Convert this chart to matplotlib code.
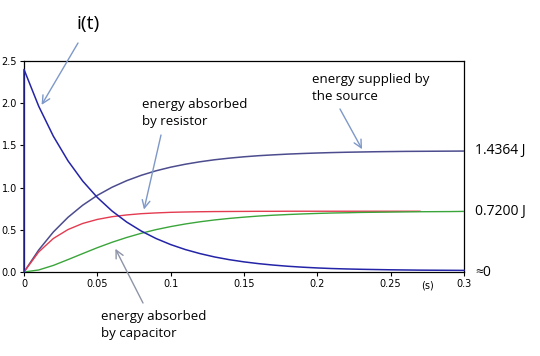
import matplotlib
matplotlib.use("Agg")
import matplotlib.pyplot as plt

# time axis (s)
t = [0.00, 0.01, 0.02, 0.03, 0.04, 0.05, 0.06, 0.07, 0.08, 0.09, 0.10,
     0.11, 0.12, 0.13, 0.14, 0.15, 0.16, 0.17, 0.18, 0.19, 0.20,
     0.21, 0.22, 0.23, 0.24, 0.25, 0.26, 0.27, 0.28, 0.29, 0.30]

# current i(t), values (jump from 0 at t=0)
t_current = [0.0] + t
current = [0.0, 2.40, 1.965, 1.609, 1.317, 1.078, 0.883, 0.723, 0.592, 0.485, 0.397, 0.325,
           0.266, 0.218, 0.178, 0.146, 0.120, 0.099, 0.082, 0.068, 0.057, 0.048,
           0.041, 0.036, 0.032, 0.029, 0.026, 0.024, 0.022, 0.021, 0.020, 0.019]

# energy supplied by the source
energy_source = [0.0, 0.260, 0.474, 0.648, 0.791, 0.908, 1.004, 1.082, 1.146, 1.199, 1.242,
                 1.277, 1.306, 1.330, 1.349, 1.365, 1.378, 1.388, 1.397, 1.404, 1.410,
                 1.415, 1.419, 1.422, 1.425, 1.427, 1.429, 1.430, 1.431, 1.432, 1.433]

# energy absorbed by resistor (trace stops near 0.27 s)
t_resistor = t[:28]
energy_resistor = [0.0, 0.237, 0.397, 0.503, 0.575, 0.623, 0.655, 0.676, 0.691, 0.700, 0.707,
                   0.711, 0.714, 0.716, 0.717, 0.718, 0.719, 0.719, 0.720, 0.720, 0.720,
                   0.720, 0.720, 0.720, 0.720, 0.720, 0.720, 0.720]

# energy absorbed by capacitor
energy_capacitor = [0.0, 0.024, 0.078, 0.147, 0.218, 0.288, 0.352, 0.409, 0.459, 0.502, 0.538,
                    0.569, 0.595, 0.617, 0.635, 0.650, 0.663, 0.673, 0.681, 0.688, 0.694,
                    0.699, 0.702, 0.706, 0.708, 0.710, 0.712, 0.714, 0.715, 0.716, 0.718]

x_ticks = [0, 0.05, 0.1, 0.15, 0.2, 0.25, 0.3]
x_tick_labels = ["0", "0.05", "0.1", "0.15", "0.2", "0.25", "0.3"]
y_ticks = [0.0, 0.5, 1.0, 1.5, 2.0, 2.5]
y_tick_labels = ["0.0", "0.5", "1.0", "1.5", "2.0", "2.5"]

final_values = [1.4364, 0.72, 0.0]
final_labels = ["1.4364 J", "0.7200 J", "≈0"]

fig = plt.figure(figsize=(5.4, 3.56), dpi=100)
ax = fig.add_axes([24 / 540, 1 - 272 / 356, 440 / 540, 211 / 356])

ax.plot(t_current, current, color="#2424a8", linewidth=1.1, zorder=4, clip_on=False)
ax.plot(t, energy_source, color="#4c4c8e", linewidth=1.1, zorder=3)
ax.plot(t_resistor, energy_resistor, color="#e33b50", linewidth=1.0, zorder=3)
ax.plot(t, energy_capacitor, color="#3aa53a", linewidth=1.0, zorder=3)

ax.set_xlim(0, 0.3)
ax.set_ylim(0, 2.5)
ax.set_xticks(x_ticks)
ax.set_xticklabels(x_tick_labels)
ax.set_yticks(y_ticks)
ax.set_yticklabels(y_tick_labels)
ax.tick_params(labelsize=7, length=3, width=0.8, pad=2, direction="out")
for s in ax.spines.values():
    s.set_linewidth(0.9)
    s.set_color("black")
    s.set_zorder(2)

fig.text(427 / 540, 1 - 285 / 356, "(s)", fontsize=7, ha="center", va="center")

# values at the right of the plot
trans = ax.get_yaxis_transform()
for v, lab in zip(final_values, final_labels):
    ax.text(1.025, v, lab, transform=trans, fontsize=10, va="center", ha="left",
            family="Open Sans", clip_on=False)

# annotations
fig.text(77 / 540, 1 - 24 / 356, "i(t)", fontsize=14, family="Open Sans", va="center")
txt_kw = dict(fontsize=9.5, family="Open Sans", va="top", ha="left", linespacing=1.35)
fig.text(142 / 540, 1 - 98 / 356, "energy absorbed\nby resistor", **txt_kw)
fig.text(312 / 540, 1 - 73 / 356, "energy supplied by\nthe source", **txt_kw)
fig.text(101 / 540, 1 - 310 / 356, "energy absorbed\nby capacitor", **txt_kw)

arrow_blue = dict(arrowstyle="->", color="#7e98c8", lw=1.0, mutation_scale=14, shrinkA=0, shrinkB=0)
arrow_gray = dict(arrowstyle="->", color="#8e94a8", lw=1.0, mutation_scale=14, shrinkA=0, shrinkB=0)
ax.annotate("", xy=(0.012, 1.98), xycoords="data", xytext=(78, 356 - 43),
            textcoords="figure pixels", arrowprops=arrow_blue, annotation_clip=False)
ax.annotate("", xy=(0.0818, 0.74), xycoords="data", xytext=(161, 356 - 135),
            textcoords="figure pixels", arrowprops=arrow_blue, annotation_clip=False)
ax.annotate("", xy=(0.2305, 1.455), xycoords="data", xytext=(340, 356 - 109),
            textcoords="figure pixels", arrowprops=arrow_blue, annotation_clip=False)
ax.annotate("", xy=(0.0623, 0.275), xycoords="data", xytext=(143, 356 - 303),
            textcoords="figure pixels", arrowprops=arrow_gray, annotation_clip=False)

fig.savefig("out.png", dpi=100)
